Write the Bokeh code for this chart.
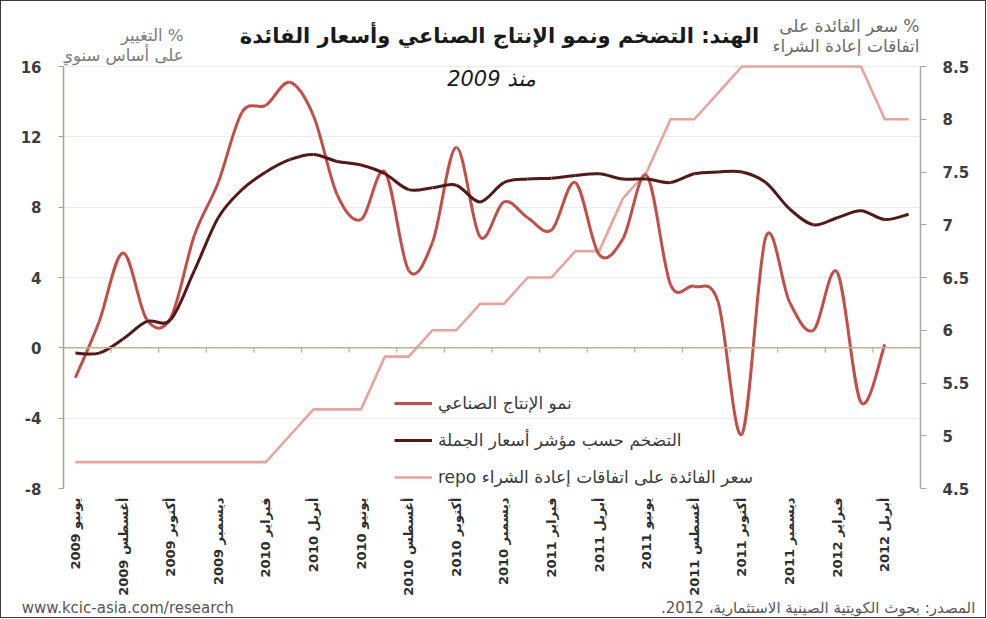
import numpy as np
from bokeh.plotting import figure
from bokeh.models import (Range1d, LinearAxis, FixedTicker, Span, Label, Legend, LegendItem,
                          CustomJSTickFormatter)
from bokeh.embed import file_html
from bokeh.resources import INLINE

# ---------------- data (monthly, Jun 2009 .. May 2012) ----------------
month_labels = ["يونيو 2009", "أغسطس 2009", "أكتوبر 2009", "ديسمبر 2009",
                "فبراير 2010", "أبريل 2010", "يونيو 2010", "أغسطس 2010",
                "أكتوبر 2010", "ديسمبر 2010", "فبراير 2011", "أبريل 2011",
                "يونيو 2011", "أغسطس 2011", "أكتوبر 2011", "ديسمبر 2011",
                "فبراير 2012", "أبريل 2012"]
n_months = 36

ip_growth = [-1.7, 1.5, 5.4, 1.6, 1.7, 6.4, 9.4, 13.4, 13.8, 15.1, 13.2, 8.7,
             7.3, 10.0, 4.4, 6.0, 11.4, 6.3, 8.3, 7.4, 6.7, 9.4, 5.3, 6.2,
             9.8, 3.6, 3.5, 2.6, -4.9, 6.3, 2.6, 1.0, 4.3, -3.1, 0.2]

wpi_inflation = [-0.3, -0.3, 0.5, 1.5, 1.6, 4.4, 7.4, 9.0, 10.0, 10.7, 11.0, 10.6,
                 10.4, 9.9, 9.0, 9.1, 9.25, 8.3, 9.4, 9.6, 9.65, 9.8, 9.9, 9.6,
                 9.6, 9.4, 9.9, 10.0, 10.0, 9.4, 7.9, 7.0, 7.4, 7.8, 7.3, 7.6]

repo_rate = [4.75, 4.75, 4.75, 4.75, 4.75, 4.75, 4.75, 4.75, 4.75, 5.0, 5.25, 5.25,
             5.25, 5.75, 5.75, 6.0, 6.0, 6.25, 6.25, 6.5, 6.5, 6.75, 6.75, 7.25,
             7.5, 8.0, 8.0, 8.25, 8.5, 8.5, 8.5, 8.5, 8.5, 8.5, 8.0, 8.0]

left_ticks = [-8, -4, 0, 4, 8, 12, 16]
right_ticks = [4.5, 5, 5.5, 6, 6.5, 7, 7.5, 8, 8.5]

legend_labels = ["نمو الإنتاج الصناعي",
                 "التضخم حسب مؤشر أسعار الجملة",
                 "repo سعر الفائدة على اتفاقات إعادة الشراء"]

title_text = "الهند: التضخم ونمو الإنتاج الصناعي وأسعار الفائدة"
subtitle_text = "منذ 2009"
left_title = ["التغيير %", "على أساس سنوي"]
right_title = ["سعر الفائدة على %", "اتفاقات إعادة الشراء"]
source_left = "www.kcic-asia.com/research"
source_right = "المصدر: بحوث الكويتية الصينية الاستثمارية، 2012.\u200f"

# ---------------- helpers ----------------
def smooth_segments(values):
    """Bezier segments (Excel-like smoothed line) through the given points."""
    y = np.asarray(values, dtype=float)
    x = np.arange(len(y), dtype=float)
    n = len(y)
    xp = np.concatenate([[x[0]], x, [x[-1]]])
    yp = np.concatenate([[y[0]], y, [y[-1]]])
    return dict(
        x0=xp[1:n], y0=yp[1:n],
        x1=xp[2:n + 1], y1=yp[2:n + 1],
        cx0=xp[1:n] + (xp[2:n + 1] - xp[0:n - 1]) / 6.0,
        cy0=yp[1:n] + (yp[2:n + 1] - yp[0:n - 1]) / 6.0,
        cx1=xp[2:n + 1] - (xp[3:n + 2] - xp[1:n]) / 6.0,
        cy1=yp[2:n + 1] - (yp[3:n + 2] - yp[1:n]) / 6.0,
    )

AR_FONT = "DejaVu Sans"
C_IP = "#C24E49"
C_WPI = "#541818"
C_REPO = "#E8A39D"
C_OLIVE = "#B9B58C"

# layout (pixels)
W, H = 986, 618
BORDER_L, BORDER_R, BORDER_B = 62, 67, 131
PLOT_TOP_PAD = 65            # free space above the "16" gridline (title area)
FRAME_H = H - BORDER_B
AXIS_H = FRAME_H - PLOT_TOP_PAD

left_lo, left_hi = left_ticks[0], left_ticks[-1]
right_lo, right_hi = right_ticks[0], right_ticks[-1]
left_top = left_hi + (left_hi - left_lo) * PLOT_TOP_PAD / AXIS_H
right_top = right_hi + (right_hi - right_lo) * PLOT_TOP_PAD / AXIS_H

# ---------------- figure ----------------
p = figure(width=W, height=H,
           x_range=Range1d(-0.5, n_months - 0.5), y_range=Range1d(left_lo, left_top),
           output_backend="svg", toolbar_location=None,
           min_border_left=BORDER_L, min_border_right=BORDER_R,
           min_border_top=0, min_border_bottom=BORDER_B)
p.outline_line_color = None
p.background_fill_color = "white"
p.border_fill_color = "white"
p.extra_y_ranges = {"repo": Range1d(right_lo, right_top)}
p.styles = {"border": "1px solid #3a3a3a"}

# left axis
ya = p.yaxis[0]
ya.ticker = FixedTicker(ticks=left_ticks)
ya.bounds = (left_lo, left_hi)
ya.formatter = CustomJSTickFormatter(code="return tick.toString()")
ya.axis_line_color = "#A9A57C"
ya.axis_line_width = 1.5
ya.major_tick_line_color = "#A9A57C"
ya.major_tick_out = 5
ya.major_tick_in = 0
ya.minor_tick_line_color = None
ya.major_label_text_font = AR_FONT
ya.major_label_text_font_style = "bold"
ya.major_label_text_font_size = "15px"
ya.major_label_text_color = "#3d3d3d"
ya.major_label_standoff = 17

p.ygrid[0].ticker = FixedTicker(ticks=left_ticks)
p.ygrid[0].grid_line_color = "#ECECEC"
p.xgrid[0].grid_line_color = None

# right axis
ra = LinearAxis(y_range_name="repo", ticker=FixedTicker(ticks=right_ticks),
                bounds=(right_lo, right_hi),
                formatter=CustomJSTickFormatter(code="return tick.toString()"))
ra.axis_line_color = "#A8A8A8"
ra.axis_line_width = 1.5
ra.major_tick_line_color = "#A8A8A8"
ra.major_tick_out = 6
ra.major_tick_in = 0
ra.minor_tick_line_color = None
ra.major_label_text_font = AR_FONT
ra.major_label_text_font_style = "bold"
ra.major_label_text_font_size = "15px"
ra.major_label_text_color = "#3d3d3d"
ra.major_label_standoff = 16
p.add_layout(ra, "right")

# bottom (month) axis
xa = p.xaxis[0]
label_positions = list(range(0, n_months, 2))
xa.ticker = FixedTicker(ticks=label_positions)
xa.major_label_overrides = {pos: lab for pos, lab in zip(label_positions, month_labels)}
xa.major_label_orientation = np.pi / 2
xa.axis_line_color = None
xa.major_tick_line_color = None
xa.major_tick_out = 0
xa.major_tick_in = 0
xa.minor_tick_line_color = None
xa.minor_tick_out = 0
xa.major_label_text_font = AR_FONT
xa.major_label_text_font_size = "13px"
xa.major_label_text_font_style = "bold"
xa.major_label_text_color = "#2e2e2e"
xa.major_label_standoff = 9

# source line (second, label-only axis under the month labels)
src_pos = [2.2, 31.2]
src_axis = LinearAxis(ticker=FixedTicker(ticks=src_pos),
                      major_label_overrides={src_pos[0]: source_left, src_pos[1]: source_right})
src_axis.axis_line_color = None
src_axis.major_tick_line_color = None
src_axis.major_tick_out = 0
src_axis.major_tick_in = 0
src_axis.minor_tick_line_color = None
src_axis.minor_tick_out = 0
src_axis.major_label_standoff = 0
src_axis.major_label_text_font = AR_FONT
src_axis.major_label_text_font_size = "15px"
src_axis.major_label_text_color = "#555555"
p.add_layout(src_axis, "below")

# zero line with category tick marks
p.add_layout(Span(location=0, dimension="width", line_color=C_OLIVE, line_width=1.5))
boundaries = np.arange(1.5, n_months - 1, 2)
p.segment(x0=boundaries, y0=np.zeros_like(boundaries), x1=boundaries,
          y1=np.full_like(boundaries, -0.28), line_color=C_OLIVE, line_width=1.2)

# ---------------- series ----------------
repo_x = list(range(len(repo_rate)))
r_repo = p.line(repo_x, repo_rate, y_range_name="repo", line_color=C_REPO,
                line_width=2.6, line_join="round")
r_ip = p.bezier(line_color=C_IP, line_width=3, **smooth_segments(ip_growth))
r_wpi = p.bezier(line_color=C_WPI, line_width=3, **smooth_segments(wpi_inflation))

legend = Legend(items=[LegendItem(label=legend_labels[0], renderers=[r_ip]),
                       LegendItem(label=legend_labels[1], renderers=[r_wpi]),
                       LegendItem(label=legend_labels[2], renderers=[r_repo])],
                location=(331, 1), orientation="vertical",
                glyph_width=38, glyph_height=20, label_height=20, spacing=17,
                label_standoff=6, padding=0, margin=0,
                border_line_color=None, background_fill_alpha=0,
                label_text_font=AR_FONT, label_text_font_size="17px",
                label_text_color="#3a3a3a")
p.add_layout(legend, "center")

# ---------------- texts (screen units relative to the plot frame) ----------------
def add_label(text, sx, sy, size, align="center", style="normal", color="#222222",
              baseline="middle"):
    p.add_layout(Label(x=sx, y=sy, x_units="screen", y_units="screen", text=text,
                       text_font=AR_FONT, text_font_size=size, text_font_style=style,
                       text_color=color, text_align=align, text_baseline=baseline))

add_label(title_text, 436, 453, "21px", style="bold", color="#1a1a1a")
add_label(subtitle_text, 428, 410, "21px", style="italic", color="#1a1a1a")
add_label(left_title[0], 120, 453, "16.5px", align="right", color="#7a7a7a")
add_label(left_title[1], 120, 433, "16.5px", align="right", color="#7a7a7a")
add_label(right_title[0], 856, 463, "17px", align="right", color="#6a6a6a")
add_label(right_title[1], 856, 443, "17px", align="right", color="#6a6a6a")

open("out.html", "w").write(file_html(p, INLINE))
